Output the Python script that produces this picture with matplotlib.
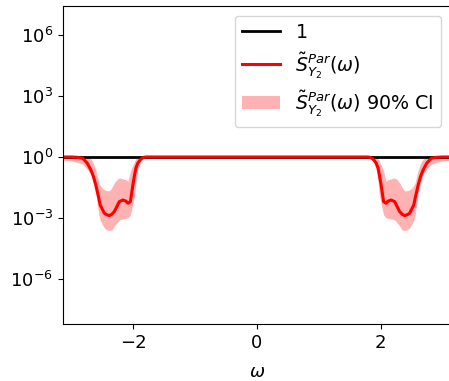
import numpy as np
import matplotlib
matplotlib.use("Agg")
import matplotlib.pyplot as plt
from matplotlib.ticker import NullLocator

# negative half of the spectrum (symmetric in omega), values as log10
w_half = [-3.1416, -3.0, -2.9, -2.82, -2.75, -2.69, -2.65, -2.61, -2.56, -2.54,
          -2.5, -2.47, -2.43, -2.39, -2.35, -2.31, -2.27, -2.23, -2.17, -2.12,
          -2.09, -2.05, -2.01, -1.98, -1.96, -1.93, -1.88, -1.84, -1.8, -1.5, 0.0]
mean_half = [0.0, 0.0, -0.02, -0.07, -0.3, -0.64, -0.95, -1.38, -2.05, -2.36,
             -2.6, -2.78, -2.85, -2.89, -2.82, -2.69, -2.45, -2.2, -2.12, -2.18,
             -2.28, -2.2, -1.38, -0.85, -0.54, -0.3, -0.1, -0.03, 0.0, 0.0, 0.0]
low_half = [-0.15, -0.2, -0.28, -0.36, -0.6, -0.85, -1.3, -1.8, -2.86, -3.1,
            -3.35, -3.5, -3.6, -3.62, -3.6, -3.4, -3.25, -3.1, -3.05, -3.02,
            -3.0, -2.85, -2.3, -1.87, -1.2, -0.6, -0.2, -0.08, -0.05, 0.0, 0.0]
up_half = [0.0, 0.0, 0.0, 0.0, 0.0, -0.1, -0.3, -0.64, -1.28, -1.4,
           -1.55, -1.62, -1.66, -1.67, -1.5, -1.28, -1.12, -1.03, -1.08, -1.12,
           -1.2, -0.7, -0.4, -0.2, -0.08, 0.0, 0.0, 0.0, 0.0, 0.0, 0.0]

w_half = np.array(w_half)
omega = np.concatenate([w_half, -w_half[-2::-1]])
mean = 10 ** np.concatenate([mean_half, mean_half[-2::-1]])
lower = 10 ** np.concatenate([low_half, low_half[-2::-1]])
upper = 10 ** np.concatenate([up_half, up_half[-2::-1]])

fig = plt.figure(figsize=(4.49, 3.81), dpi=100)
ax = fig.add_axes([63 / 449, 57 / 381, 388 / 449, 318 / 381])

ax.plot(omega, np.ones_like(omega), color="black", lw=2, label="1")
ax.plot(omega, mean, color="red", lw=2.2,
        label=r"$\tilde{S}^{Par}_{Y_2}(\omega)$")
ax.fill_between(omega, lower, upper, color="red", alpha=0.3, lw=0,
                label=r"$\tilde{S}^{Par}_{Y_2}(\omega)$ 90% CI")

ax.set_yscale("log")
ax.set_xlim(-np.pi, np.pi)
ax.set_ylim(10 ** -8.23, 10 ** 7.44)
ax.set_yticks([1e-6, 1e-3, 1e0, 1e3, 1e6])
ax.yaxis.set_minor_locator(NullLocator())
ax.set_xticks([-2, 0, 2])
ax.tick_params(labelsize=13)
ax.set_xlabel(r"$\omega$", fontsize=13, labelpad=8)
ax.legend(loc="upper right", fontsize=13.7, labelspacing=0.4,
          borderaxespad=0.5)

fig.savefig("out.png", dpi=100)
